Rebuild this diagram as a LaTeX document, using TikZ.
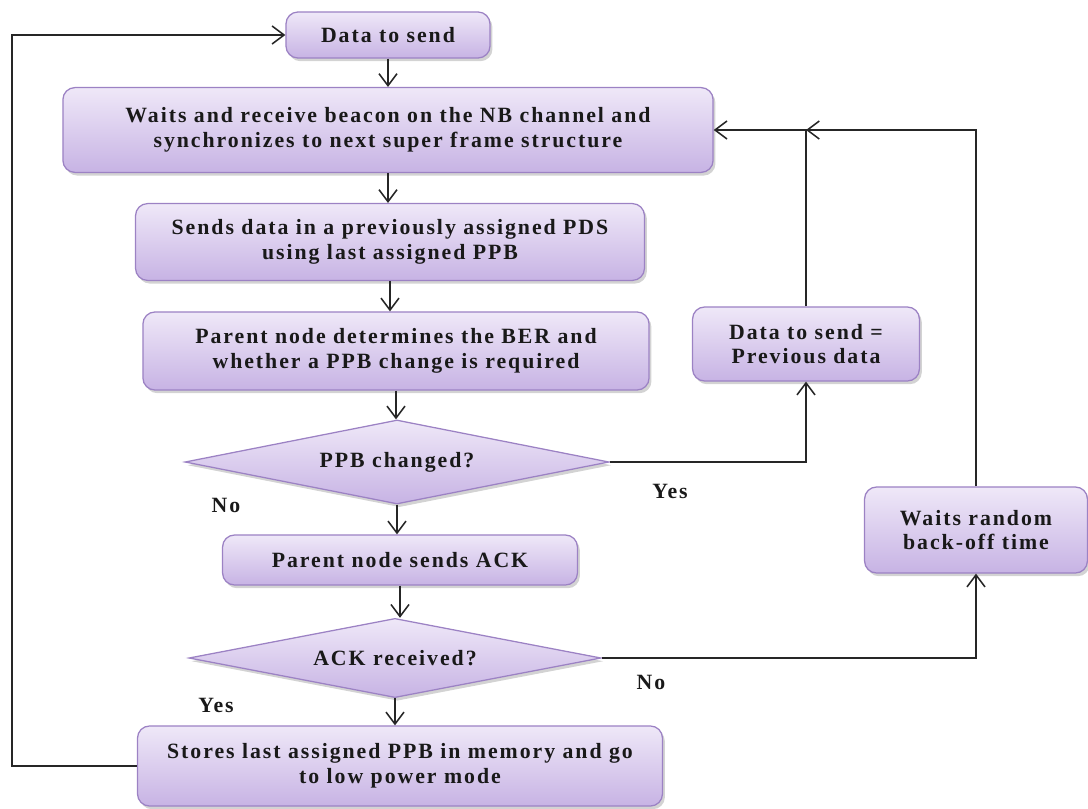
\documentclass[tikz,border=0pt]{standalone}
\usepackage{fontspec}
\setmainfont{Liberation Serif}[LetterSpace=9]
\usetikzlibrary{shapes.geometric,arrows.meta,shadows}

\definecolor{boxtop}{HTML}{EFE8F8}
\definecolor{boxbot}{HTML}{C7B3E4}
\definecolor{boxline}{HTML}{9C82C4}

\begin{document}
\begin{tikzpicture}[
x=0.025cm, y=-0.025cm,
font=\fontsize{15.5}{17.5}\selectfont\bfseries,
proc/.style={draw=boxline, line width=0.9pt,
             top color=boxtop, bottom color=boxbot,
             rounded corners=0.3cm, align=center,
             text=black!90,
             drop shadow={opacity=0.35, shadow xshift=0.06cm, shadow yshift=-0.08cm}},
decision/.style={proc, diamond, rounded corners=0pt, inner sep=0pt, aspect=5.1},
arr/.style={-{Straight Barb[length=0.3cm, width=0.45cm]}, line width=1.1pt, black!85},
lbl/.style={text=black!90}
]
\useasboundingbox (0,0) rectangle (1088,809);

% main column
\node[proc, minimum width=5.1cm, minimum height=1.15cm] (data) at (388,35) {Data to send};
\node[proc, minimum width=16.25cm, minimum height=2.12cm] (beacon) at (388,130)
  {Waits and receive beacon on the NB channel and\\synchronizes to next super frame structure};
\node[proc, minimum width=12.72cm, minimum height=1.92cm] (sendpds) at (390,242)
  {Sends data in a previously assigned PDS\\using last assigned PPB};
\node[proc, minimum width=12.65cm, minimum height=1.95cm] (ber) at (396,351)
  {Parent node determines the BER and\\whether a PPB change is required};
\node[decision, minimum width=10.6cm, minimum height=2.1cm] (ppbchg) at (397,462) {PPB changed?};
\node[proc, minimum width=8.87cm, minimum height=1.25cm] (ack) at (400,560) {Parent node sends ACK};
\node[decision, minimum width=10.3cm, minimum height=1.98cm] (ackrcv) at (395,658) {ACK received?};
\node[proc, minimum width=13.12cm, minimum height=2.0cm] (store) at (400,766)
  {Stores last assigned PPB in memory and go\\to low power mode};

% side boxes
\node[proc, minimum width=5.67cm, minimum height=1.85cm] (prevdata) at (806,344)
  {Data to send =\\Previous data};
\node[proc, minimum width=5.57cm, minimum height=2.15cm] (backoff) at (976,530)
  {Waits random\\back-off time};

% labels
\node[lbl] (ppbno) at (226,505) {No};
\node[lbl] (ppbyes) at (670,491) {Yes};
\node[lbl] (ackyes) at (216,705) {Yes};
\node[lbl] (ackno) at (651,682) {No};

% straight down
\draw[arr] (data.south) -- (data.south |- beacon.north);
\draw[arr] (beacon.south) -- (beacon.south |- sendpds.north);
\draw[arr] (sendpds.south) -- (sendpds.south |- ber.north);
\draw[arr] (ber.south) -- (ber.south |- ppbchg.north);
\draw[arr] (ppbchg.south) -- (ppbchg.south |- ack.north);
\draw[arr] (ack.south) -- (ack.south |- ackrcv.north);
\draw[arr] (ackrcv.south) -- (ackrcv.south |- store.north);

% yes / no branches
\draw[arr] (ppbchg.east) -| (prevdata.south);
\draw[arr] (prevdata.north) |- (beacon.east);
\coordinate (join) at (prevdata.north |- beacon.east);
\draw[arr] (backoff.north) |- (join);
\draw[arr] (ackrcv.east) -| (backoff.south);

% back to the start
\coordinate (loopx) at (12,0);
\draw[arr] (store.west) -- (store.west -| loopx) |- (data.west);

\end{tikzpicture}
\end{document}
